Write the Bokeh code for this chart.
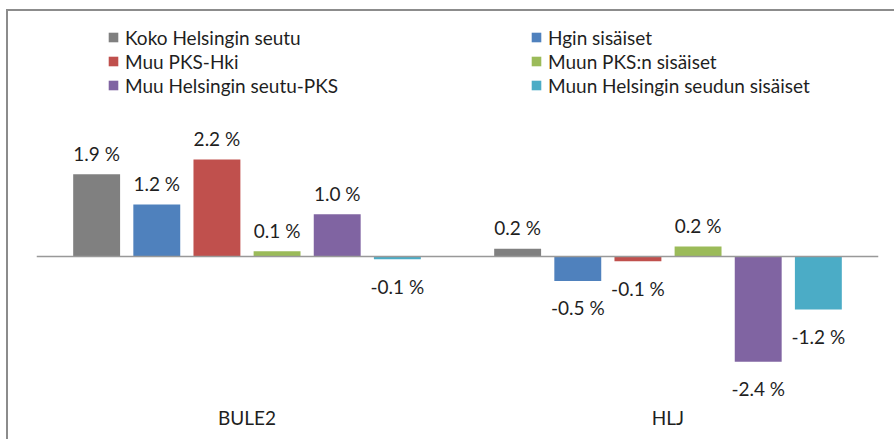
from bokeh.plotting import figure
from bokeh.models import (ColumnDataSource, FactorRange, Range1d, Span, Legend,
                          LegendItem)
from bokeh.transform import dodge
from bokeh.core.properties import value
from bokeh.embed import file_html
from bokeh.resources import INLINE

categories = ["BULE2", "HLJ"]
series = ["Koko Helsingin seutu", "Hgin sisäiset", "Muu PKS-Hki",
          "Muun PKS:n sisäiset", "Muu Helsingin seutu-PKS",
          "Muun Helsingin seudun sisäiset"]
colors = ["#808080", "#4f81bd", "#c0504d", "#9bbb59", "#8064a2", "#4bacc6"]

koko = [1.88, 0.18]
hgin = [1.19, -0.56]
muu_pks_hki = [2.22, -0.11]
muun_pks = [0.12, 0.23]
muu_seutu_pks = [0.97, -2.41]
muun_seudun = [-0.06, -1.21]

koko_lbl = ["1.9 %", "0.2 %"]
hgin_lbl = ["1.2 %", "-0.5 %"]
muu_pks_hki_lbl = ["2.2 %", "-0.1 %"]
muun_pks_lbl = ["0.1 %", "0.2 %"]
muu_seutu_pks_lbl = ["1.0 %", "-2.4 %"]
muun_seudun_lbl = ["-0.1 %", "-1.2 %"]

values = [koko, hgin, muu_pks_hki, muun_pks, muu_seutu_pks, muun_seudun]
labels = [koko_lbl, hgin_lbl, muu_pks_hki_lbl, muun_pks_lbl,
          muu_seutu_pks_lbl, muun_seudun_lbl]

FONT = "Lato"
TXT = "#1f1f1f"

p = figure(x_range=FactorRange(*categories, range_padding=0),
           y_range=Range1d(-3.295, 5.584),
           width=888, height=430, output_backend="svg", toolbar_location=None,
           min_border_left=28, min_border_right=18, min_border_top=1,
           min_border_bottom=41)
p.outline_line_color = None
p.background_fill_color = "white"
p.border_fill_color = "white"
p.grid.visible = False
p.yaxis.visible = False
p.styles = {"margin-left": "6px", "margin-top": "9px",
            "border-left": "2px solid #8c8c8c", "border-top": "2px solid #8c8c8c"}

xa = p.xaxis[0]
xa.axis_line_color = None
xa.major_tick_line_color = None
xa.minor_tick_line_color = None
xa.major_tick_out = 0
xa.major_label_text_font = FONT
xa.major_label_text_font_size = "19px"
xa.major_label_text_color = TXT
xa.major_label_standoff = 5

p.add_layout(Span(location=0, dimension="width", line_color="#999999", line_width=1.5))

n = len(series)
step = 1.0 / (n + 1)
renderers = []
for i, (name, vals, lbls, col) in enumerate(zip(series, values, labels, colors)):
    off = (i - (n - 1) / 2) * step
    src = ColumnDataSource(dict(cat=categories, v=vals, lbl=lbls,
                                yo=[-21 if v >= 0 else 27 for v in vals]))
    r = p.vbar(x=dodge("cat", off, range=p.x_range), top="v", bottom=0,
               width=step * 0.78, source=src, fill_color=col, line_color=None)
    renderers.append(r)
    p.text(x=dodge("cat", off, range=p.x_range), y="v", text="lbl", source=src,
           y_offset="yo", text_align="center", text_baseline="middle",
           text_font=value(FONT), text_font_size="19px", text_color=TXT)

def make_legend(idx, loc):
    lg = Legend(items=[LegendItem(label=series[k], renderers=[renderers[k]]) for k in idx],
                location=loc, orientation="vertical", padding=0, margin=0, spacing=0,
                border_line_color=None, background_fill_alpha=0,
                label_text_font=FONT, label_text_font_size="19px",
                label_text_color=TXT, glyph_width=12, glyph_height=12,
                label_standoff=6, label_height=24)
    p.add_layout(lg)

make_legend([0, 2, 4], (71, 303))
make_legend([1, 3, 5], (494, 303))

open("out.html", "w").write(file_html(p, INLINE))
